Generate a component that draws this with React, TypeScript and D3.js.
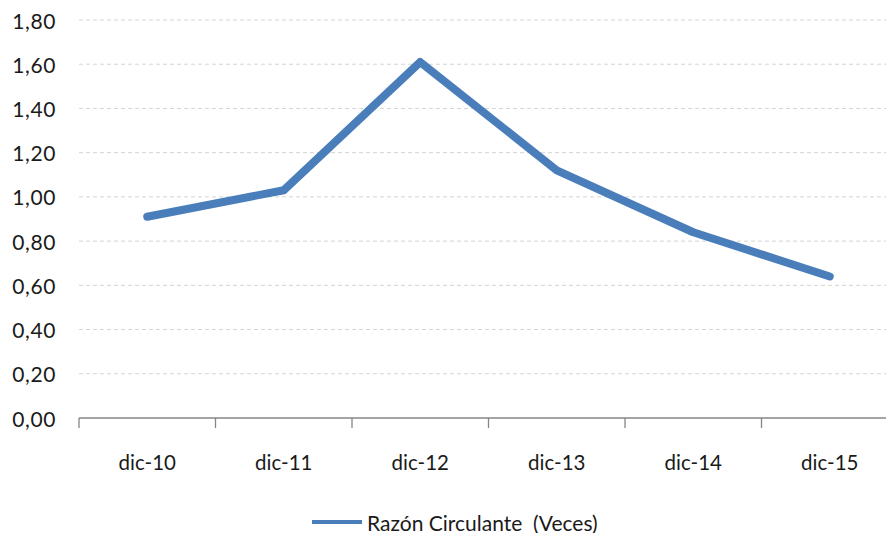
import React from "react";
import * as d3 from "d3";

const categories = ["dic-10", "dic-11", "dic-12", "dic-13", "dic-14", "dic-15"];
const values = [0.91, 1.03, 1.61, 1.12, 0.84, 0.64];
const yTicks = [0, 0.2, 0.4, 0.6, 0.8, 1.0, 1.2, 1.4, 1.6, 1.8];
const seriesName = "Razón Circulante  (Veces)";

const W = 886;
const H = 533;
const FONT = "Lato, 'Open Sans', sans-serif";

export default function App() {
  const x = d3.scaleBand<string>().domain(categories).range([79, 898]);
  const y = d3.scaleLinear().domain([0, 1.8]).range([418, 20]);
  const fmt = (v: number) => v.toFixed(2).replace(".", ",");
  const line = d3
    .line<number>()
    .x((_, i) => (x(categories[i]) as number) + x.bandwidth() / 2)
    .y((d) => y(d));

  const tickXs = categories.map((c) => x(c) as number).concat([x.range()[1]]);

  return (
    <svg
      width={W}
      height={H}
      style={{ position: "absolute", left: 0, top: 0, background: "#fff" }}
      fontFamily={FONT}
    >
      <rect width={W} height={H} fill="#fff" />
      {yTicks.slice(1).map((t) => (
        <line
          key={t}
          x1={79}
          x2={W}
          y1={y(t)}
          y2={y(t)}
          stroke="#d4d4d4"
          strokeWidth={1}
          strokeDasharray="4,3"
        />
      ))}
      {yTicks.map((t) => (
        <text
          key={"l" + t}
          x={56}
          y={y(t)}
          textAnchor="end"
          dominantBaseline="central"
          fontSize={21}
          letterSpacing={0.6}
          fill="#1a1a1a"
        >
          {fmt(t)}
        </text>
      ))}
      <line x1={79} x2={W} y1={y(0)} y2={y(0)} stroke="#868686" strokeWidth={1.3} />
      {tickXs.map((tx, i) => (
        <line key={"t" + i} x1={tx} x2={tx} y1={y(0)} y2={y(0) + 10} stroke="#868686" strokeWidth={1.3} />
      ))}
      {categories.map((c) => (
        <text
          key={c}
          x={(x(c) as number) + x.bandwidth() / 2}
          y={462}
          textAnchor="middle"
          dominantBaseline="central"
          fontSize={20.5}
          fill="#1a1a1a"
        >
          {c}
        </text>
      ))}
      <path
        d={line(values) || ""}
        fill="none"
        stroke="#4A7EBB"
        strokeWidth={8}
        strokeLinejoin="round"
        strokeLinecap="round"
      />
      <line x1={312} x2={362} y1={522} y2={522} stroke="#4A7EBB" strokeWidth={4} />
      <text
        x={367}
        y={522}
        dominantBaseline="central"
        fontSize={21}
        fill="#1a1a1a"
        style={{ whiteSpace: "pre" }}
      >
        {seriesName}
      </text>
    </svg>
  );
}
